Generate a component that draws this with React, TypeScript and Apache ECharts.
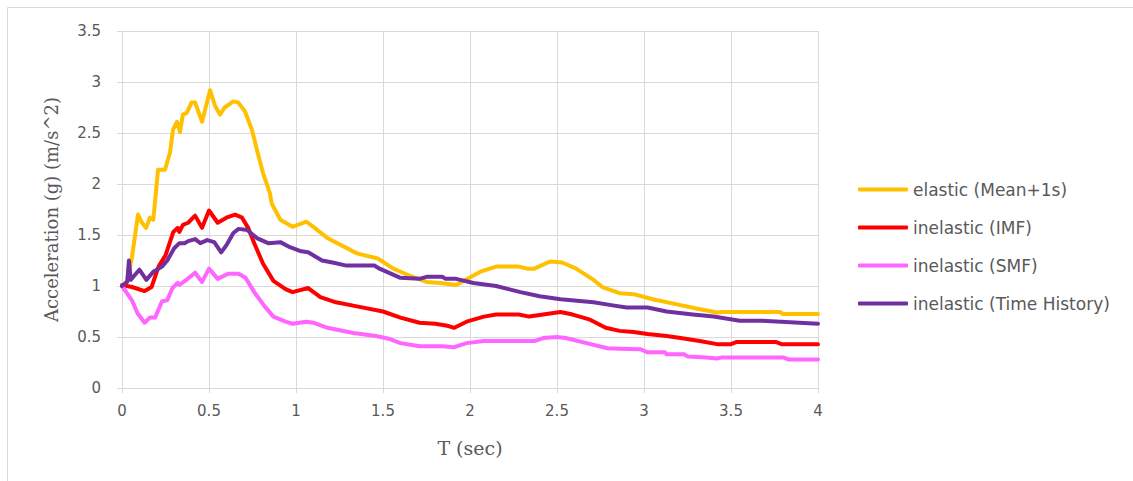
import React, { useEffect, useRef } from "react";
import * as echarts from "echarts";

const xTicks = [0, 0.5, 1, 1.5, 2, 2.5, 3, 3.5, 4];
const yTicks = [0, 0.5, 1, 1.5, 2, 2.5, 3, 3.5];

const seriesNames = [
  "elastic (Mean+1s)",
  "inelastic (IMF)",
  "inelastic (SMF)",
  "inelastic (Time History)",
];
const seriesColors = ["#FFC000", "#FF0000", "#FF66FF", "#7030A0"];

const elasticT = [0, 0.03, 0.057, 0.092, 0.115, 0.138, 0.161, 0.18, 0.207, 0.225, 0.247, 0.276, 0.293, 0.316, 0.333, 0.35, 0.373, 0.4, 0.42, 0.46, 0.506, 0.534, 0.563, 0.59, 0.64, 0.667, 0.707, 0.747, 0.776, 0.81, 0.85, 0.86, 0.91, 0.98, 1.06, 1.1, 1.18, 1.35, 1.47, 1.56, 1.64, 1.75, 1.83, 1.92, 2.06, 2.15, 2.28, 2.33, 2.37, 2.46, 2.53, 2.61, 2.71, 2.76, 2.86, 2.94, 3.05, 3.19, 3.3, 3.42, 3.45, 3.78, 3.8, 4.0];
const elasticV = [1.0, 1.05, 1.28, 1.7, 1.62, 1.57, 1.67, 1.65, 2.14, 2.14, 2.14, 2.31, 2.53, 2.61, 2.51, 2.68, 2.7, 2.8, 2.8, 2.61, 2.92, 2.77, 2.68, 2.75, 2.81, 2.8, 2.71, 2.53, 2.33, 2.11, 1.91, 1.81, 1.65, 1.58, 1.63, 1.58, 1.47, 1.32, 1.27, 1.17, 1.11, 1.04, 1.03, 1.01, 1.14, 1.19, 1.19, 1.17, 1.17, 1.24, 1.23, 1.17, 1.06, 0.99, 0.93, 0.92, 0.87, 0.82, 0.78, 0.74, 0.745, 0.745, 0.725, 0.725];

const imfT = [0, 0.057, 0.13, 0.17, 0.21, 0.25, 0.295, 0.32, 0.33, 0.35, 0.38, 0.42, 0.46, 0.5, 0.55, 0.6, 0.65, 0.69, 0.725, 0.76, 0.81, 0.87, 0.94, 0.98, 1.07, 1.14, 1.23, 1.35, 1.5, 1.6, 1.71, 1.8, 1.87, 1.91, 1.98, 2.08, 2.15, 2.28, 2.34, 2.42, 2.52, 2.59, 2.69, 2.78, 2.86, 2.94, 3.02, 3.13, 3.21, 3.32, 3.42, 3.5, 3.53, 3.76, 3.79, 4.0];
const imfV = [1.01, 0.99, 0.95, 0.99, 1.19, 1.3, 1.53, 1.57, 1.53, 1.6, 1.62, 1.69, 1.57, 1.74, 1.62, 1.67, 1.7, 1.67, 1.57, 1.42, 1.22, 1.05, 0.97, 0.94, 0.98, 0.89, 0.84, 0.8, 0.75, 0.69, 0.64, 0.63, 0.61, 0.59, 0.65, 0.7, 0.72, 0.72, 0.7, 0.72, 0.745, 0.72, 0.67, 0.59, 0.56, 0.55, 0.53, 0.51, 0.49, 0.46, 0.43, 0.43, 0.45, 0.45, 0.43, 0.43];

const smfT = [0, 0.057, 0.09, 0.13, 0.16, 0.19, 0.23, 0.26, 0.29, 0.32, 0.33, 0.37, 0.42, 0.46, 0.5, 0.55, 0.61, 0.67, 0.71, 0.76, 0.82, 0.87, 0.94, 0.98, 1.06, 1.1, 1.18, 1.33, 1.46, 1.54, 1.6, 1.71, 1.84, 1.91, 1.98, 2.08, 2.37, 2.42, 2.5, 2.55, 2.67, 2.79, 2.86, 2.98, 3.02, 3.12, 3.13, 3.23, 3.25, 3.36, 3.42, 3.45, 3.8, 3.83, 4.0];
const smfV = [1.0, 0.86, 0.73, 0.64, 0.69, 0.69, 0.85, 0.86, 0.98, 1.03, 1.01, 1.06, 1.13, 1.04, 1.17, 1.07, 1.12, 1.12, 1.08, 0.94, 0.8, 0.7, 0.65, 0.63, 0.65, 0.64, 0.59, 0.54, 0.51, 0.48, 0.44, 0.41, 0.41, 0.4, 0.44, 0.46, 0.46, 0.49, 0.5, 0.49, 0.44, 0.39, 0.385, 0.38, 0.35, 0.35, 0.33, 0.33, 0.31, 0.3, 0.29, 0.3, 0.3, 0.28, 0.28];

const thT = [0, 0.03, 0.04, 0.05, 0.075, 0.1, 0.14, 0.18, 0.23, 0.26, 0.3, 0.33, 0.36, 0.38, 0.42, 0.45, 0.49, 0.53, 0.57, 0.6, 0.64, 0.67, 0.72, 0.775, 0.84, 0.91, 0.965, 1.03, 1.07, 1.15, 1.21, 1.29, 1.45, 1.48, 1.6, 1.71, 1.75, 1.84, 1.86, 1.92, 2.02, 2.15, 2.29, 2.4, 2.52, 2.71, 2.82, 2.9, 3.02, 3.13, 3.28, 3.4, 3.55, 3.68, 4.0];
const thV = [1.0, 1.04, 1.25, 1.06, 1.11, 1.16, 1.06, 1.14, 1.19, 1.25, 1.37, 1.42, 1.42, 1.44, 1.46, 1.42, 1.45, 1.43, 1.33, 1.4, 1.52, 1.56, 1.55, 1.47, 1.42, 1.43, 1.38, 1.34, 1.33, 1.25, 1.23, 1.2, 1.2, 1.17, 1.08, 1.07, 1.09, 1.09, 1.07, 1.07, 1.03, 1.0, 0.94, 0.9, 0.87, 0.84, 0.81, 0.79, 0.79, 0.75, 0.72, 0.7, 0.66, 0.66, 0.63];

const seriesT = [elasticT, imfT, smfT, thT];
const seriesV = [elasticV, imfV, smfV, thV];

const labelFont = "DejaVu Sans";
const titleFont = "DejaVu Serif";
const labelColor = "#595959";
const gridColor = "#D9D9D9";

export default function App() {
  const ref = useRef<HTMLDivElement>(null);
  useEffect(() => {
    if (!ref.current) return;
    const chart = echarts.init(ref.current, null, { renderer: "svg" });
    chart.setOption({
      animation: false,
      backgroundColor: "#ffffff",
      grid: { left: 122, right: 315, top: 31, bottom: 93, containLabel: false },
      graphic: [
        { type: "line", shape: { x1: 7.5, y1: 7.5, x2: 1133, y2: 7.5 }, style: { stroke: gridColor, lineWidth: 1 } },
        { type: "line", shape: { x1: 7.5, y1: 7.5, x2: 7.5, y2: 481 }, style: { stroke: gridColor, lineWidth: 1 } },
      ],
      legend: {
        orient: "vertical",
        left: 858,
        top: 181,
        padding: 0,
        icon: "roundRect",
        itemWidth: 50,
        itemHeight: 4,
        itemGap: 21,
        textStyle: { fontFamily: labelFont, fontSize: 17, color: labelColor },
        data: seriesNames,
      },
      xAxis: {
        type: "value",
        min: 0,
        max: 4,
        interval: 0.5,
        name: "T (sec)",
        nameLocation: "middle",
        nameGap: 50,
        nameTextStyle: { fontFamily: titleFont, fontSize: 19, color: labelColor },
        axisLine: { show: true, lineStyle: { color: gridColor, width: 1 } },
        axisTick: { show: true, length: 5, lineStyle: { color: gridColor } },
        axisLabel: { margin: 15, fontFamily: labelFont, fontSize: 15, color: labelColor, formatter: (v: number) => String(v) },
        splitLine: { show: true, lineStyle: { color: gridColor, width: 1 } },
      },
      yAxis: {
        type: "value",
        min: 0,
        max: 3.5,
        interval: 0.5,
        name: "Acceleration (g) (m/s^2)",
        nameLocation: "middle",
        nameGap: 62,
        nameTextStyle: { fontFamily: titleFont, fontSize: 18, color: labelColor },
        axisLine: { show: true, lineStyle: { color: gridColor, width: 1 } },
        axisTick: { show: true, length: 5, lineStyle: { color: gridColor } },
        axisLabel: { margin: 21, fontFamily: labelFont, fontSize: 15, color: labelColor, formatter: (v: number) => String(v) },
        splitLine: { show: true, lineStyle: { color: gridColor, width: 1 } },
      },
      series: seriesNames.map((name, i) => ({
        name,
        type: "line",
        showSymbol: false,
        symbol: "none",
        smooth: false,
        color: seriesColors[i],
        lineStyle: { width: 4, color: seriesColors[i], cap: "round", join: "round" },
        data: seriesT[i].map((t, j) => [t, seriesV[i][j]]),
      })),
    });
    return () => chart.dispose();
  }, []);
  return <div ref={ref} style={{ position: "fixed", left: 0, top: 0, width: 1133, height: 481 }} />;
}
